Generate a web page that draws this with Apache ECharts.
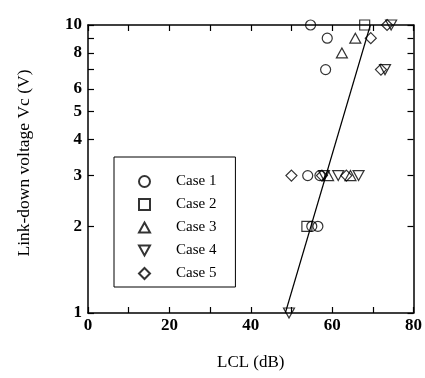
<!DOCTYPE html>
<html>
<head>
<meta charset="utf-8">
<script src="https://cdn.jsdelivr.net/npm/echarts@6/dist/echarts.min.js"></script>
<style>
html,body{margin:0;padding:0;background:#fff;}
#chart{width:425px;height:378px;}
</style>
</head>
<body>
<div id="chart"></div>
<script>
// ---- data (LCL dB, Vc V) ----
const caseNames = ['Case 1', 'Case 2', 'Case 3', 'Case 4', 'Case 5'];
const case1 = [[54.7, 10], [58.8, 9], [58.4, 7], [54, 3], [57, 3], [55, 2], [56.5, 2]];
const case2 = [[68, 10], [53.8, 2]];
const case3 = [[62.4, 8], [65.7, 9], [59, 3], [64.5, 3]];
const case4 = [[74.5, 10], [73, 7], [58, 3], [61.5, 3], [66.5, 3], [49.4, 1]];
const case5 = [[73.5, 10], [69.5, 9], [72, 7], [50, 3], [57.5, 3], [63.5, 3]];
const fitLine = [[48.5, 1], [69.4, 10]];
const xLabelValues = [0, 20, 40, 60, 80];
const yTickValues = [1, 2, 3, 4, 5, 6, 7, 8, 9, 10];
const yLabelValues = [1, 2, 3, 4, 5, 6, 8, 10];

const FONT = 'Liberation Serif';
const symbols = [
  'circle',
  'path://M0,0 L10,0 L10,10 L0,10 Z',
  'path://M5,0 L10,9 L0,9 Z',
  'path://M0,0 L10,0 L5,9 Z',
  'path://M5,0 L10,5 L5,10 L0,5 Z'
];
const sizes = [10, 10, [11, 10], [11, 10], [11, 11]];
const caseData = [case1, case2, case3, case4, case5];

const chart = echarts.init(document.getElementById('chart'), null, {renderer: 'canvas'});

const lineStyleAxis = {color: '#000', width: 1.5};
const yTickLog = yTickValues.map(v => Math.log10(v));
const yLabelLog = yLabelValues.map(v => Math.log10(v));

const series = caseData.map((d, i) => ({
  name: caseNames[i],
  type: 'scatter',
  xAxisIndex: 0,
  yAxisIndex: 0,
  data: d,
  symbol: symbols[i],
  symbolSize: sizes[i],
  itemStyle: {color: 'rgba(0,0,0,0)', borderColor: '#000', borderWidth: 1.2},
  z: 3
}));
series.push({
  name: 'fit',
  type: 'line',
  xAxisIndex: 0,
  yAxisIndex: 0,
  data: fitLine,
  symbol: 'none',
  lineStyle: {color: '#000', width: 1.2},
  silent: true,
  z: 2
});

const option = {
  animation: false,
  backgroundColor: '#fff',
  grid: {left: 88, right: 9, top: 25, bottom: 65, containLabel: false},
  legend: {
    data: caseNames,
    orient: 'vertical',
    left: 114,
    top: 157,
    padding: [17, 19, 6, 24],
    itemWidth: 11,
    itemHeight: 11,
    itemGap: 8,
    borderColor: '#000',
    borderWidth: 1,
    textStyle: {fontFamily: FONT, fontSize: 15, color: '#000', lineHeight: 15, padding: [0, 0, 0, 21]},
    selectedMode: false
  },
  xAxis: [
    {
      type: 'value', position: 'bottom', min: 0, max: 80, interval: 10,
      axisLine: {onZero: false, lineStyle: lineStyleAxis},
      axisTick: {inside: true, length: 6, lineStyle: {color: '#000', width: 1.2}},
      axisLabel: {
        margin: 4, fontFamily: FONT, fontSize: 17, fontWeight: 'bold', color: '#000',
        formatter: v => (xLabelValues.indexOf(v) >= 0 ? String(v) : '')
      },
      splitLine: {show: false},
      name: 'LCL (dB)', nameLocation: 'middle', nameGap: 41,
      nameTextStyle: {fontFamily: FONT, fontSize: 17, color: '#000'}
    },
    {
      type: 'value', position: 'top', min: 0, max: 80, interval: 10,
      axisLine: {onZero: false, lineStyle: lineStyleAxis},
      axisTick: {inside: true, length: 6, lineStyle: {color: '#000', width: 1.2}},
      axisLabel: {show: false},
      splitLine: {show: false}
    }
  ],
  yAxis: [
    {
      type: 'log', logBase: 10, min: 1, max: 10, position: 'left',
      axisLine: {onZero: false, lineStyle: lineStyleAxis},
      axisTick: {show: false},
      axisLabel: {show: false},
      splitLine: {show: false}
    },
    {
      type: 'value', min: 0, max: 1, position: 'right',
      axisLine: {onZero: false, lineStyle: lineStyleAxis},
      axisTick: {inside: true, length: 6, customValues: yTickLog, lineStyle: {color: '#000', width: 1.2}},
      axisLabel: {show: false},
      splitLine: {show: false}
    },
    {
      type: 'value', min: 0, max: 1, position: 'left',
      axisLine: {show: false, onZero: false},
      axisTick: {inside: true, length: 6, customValues: yTickLog, lineStyle: {color: '#000', width: 1.2}},
      axisLabel: {
        margin: 6, fontFamily: FONT, fontSize: 17, fontWeight: 'bold', color: '#000',
        customValues: yLabelLog,
        formatter: v => String(Math.round(Math.pow(10, v)))
      },
      splitLine: {show: false},
      name: 'Link-down voltage Vc (V)', nameLocation: 'middle', nameGap: 55,
      nameTextStyle: {fontFamily: FONT, fontSize: 17.5, color: '#000', padding: [0, 0, 0, 12]}
    }
  ],
  series: series
};
chart.setOption(option);
</script>
</body>
</html>
